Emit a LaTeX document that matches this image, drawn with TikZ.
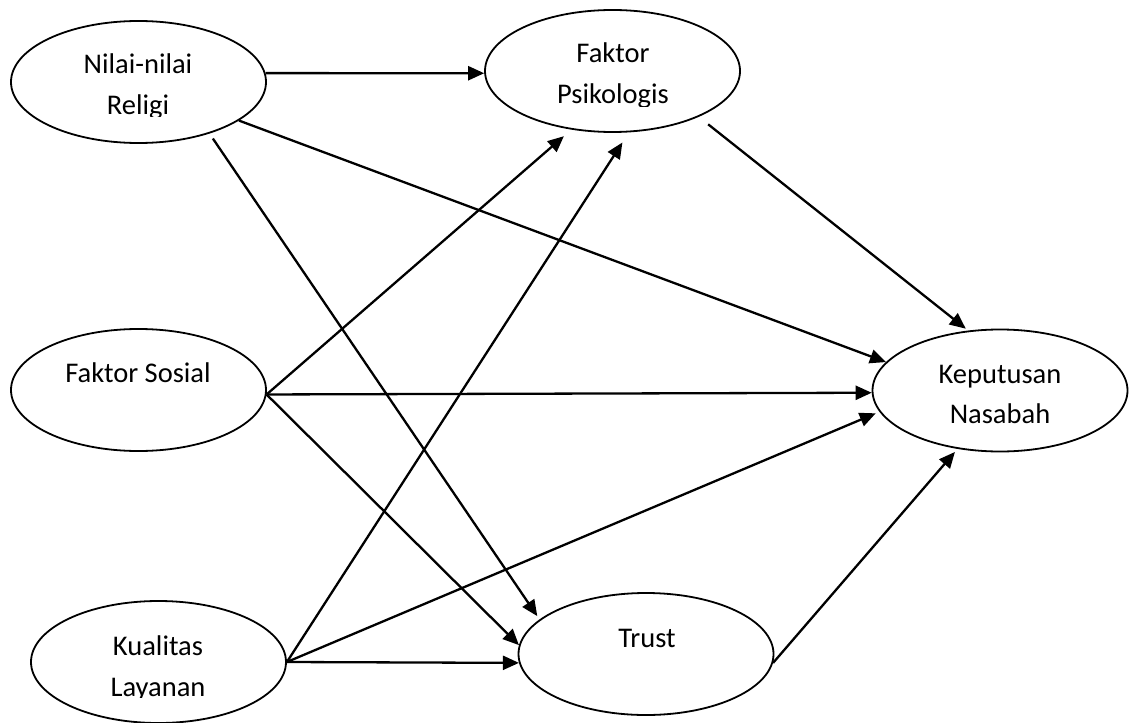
\documentclass[tikz,border=0pt]{standalone}
\usepackage{fontspec}
\setmainfont{Carlito}
\usetikzlibrary{shapes.geometric,arrows.meta}
\begin{document}
\begin{tikzpicture}[x=1pt,y=-1pt,
  latent/.style={ellipse,draw,line width=1.8pt,minimum width=255pt,minimum height=122pt,inner sep=0pt},
  lbl/.style={anchor=base,inner sep=0pt,font=\fontsize{28.5}{34}\selectfont},
  arr/.style={line width=2.3pt,-{Triangle[length=16pt,width=14pt]}}]
\useasboundingbox (0,0) rectangle (1131,722);

% constructs
\node[latent] (rel) at (138.5,82) {};
\node[latent] (psi) at (612.5,71) {};
\node[latent] (sos) at (138.5,390) {};
\node[latent] (kua) at (158.5,662) {};
\node[latent] (tru) at (646,654) {};
\node[latent] (kep) at (1000,390.5) {};

% labels (lower lines are cut off by their text frames)
\node[lbl] (rel1) at (138,74) {Nilai-nilai};
\begin{scope}
  \clip (0,0) rectangle (1131,117);
  \node[lbl] (rel2) at (138,114.5) {Religi};
\end{scope}
\node[lbl] (psi1) at (613,63) {Faktor};
\begin{scope}
  \clip (0,0) rectangle (1131,106.7);
  \node[lbl] (psi2) at (613,103.5) {Psikologis};
\end{scope}
\node[lbl] (kep1) at (1000,383) {Keputusan};
\node[lbl] (kep2) at (1000,423) {Nasabah};
\node[lbl] (sos1) at (138,382) {Faktor Sosial};
\node[lbl] (kua1) at (158,655) {Kualitas};
\begin{scope}
  \clip (0,0) rectangle (1131,697.5);
  \node[lbl] (kua2) at (158,696) {Layanan};
\end{scope}
\node[lbl] (tru1) at (647,647) {Trust};

% paths
\draw[arr] (rel.4) -- (psi.181);
\draw[arr] (rel.-21) -- (kep.166);
\draw[arr, shorten <=6pt, shorten >=4pt] (rel.-36) -- (tru.162);
\draw[arr, shorten >=10pt] (sos.-2) -- (psi.-125);
\draw[arr] (sos.-2) -- (kep.181);
\draw[arr] (sos.-2) -- (tru.176);
\draw[arr, shorten >=12pt] (kua.0) -- (psi.-75);
\draw[arr, shorten >=4pt] (kua.0) -- (kep.190);
\draw[arr] (kua.0) -- (tru.184);
\draw[arr, shorten <=12pt, shorten >=3pt] (psi.-28) -- (kep.118);
\draw[arr, shorten >=4pt] (tru.-4) -- (kep.-126);
\end{tikzpicture}
\end{document}
